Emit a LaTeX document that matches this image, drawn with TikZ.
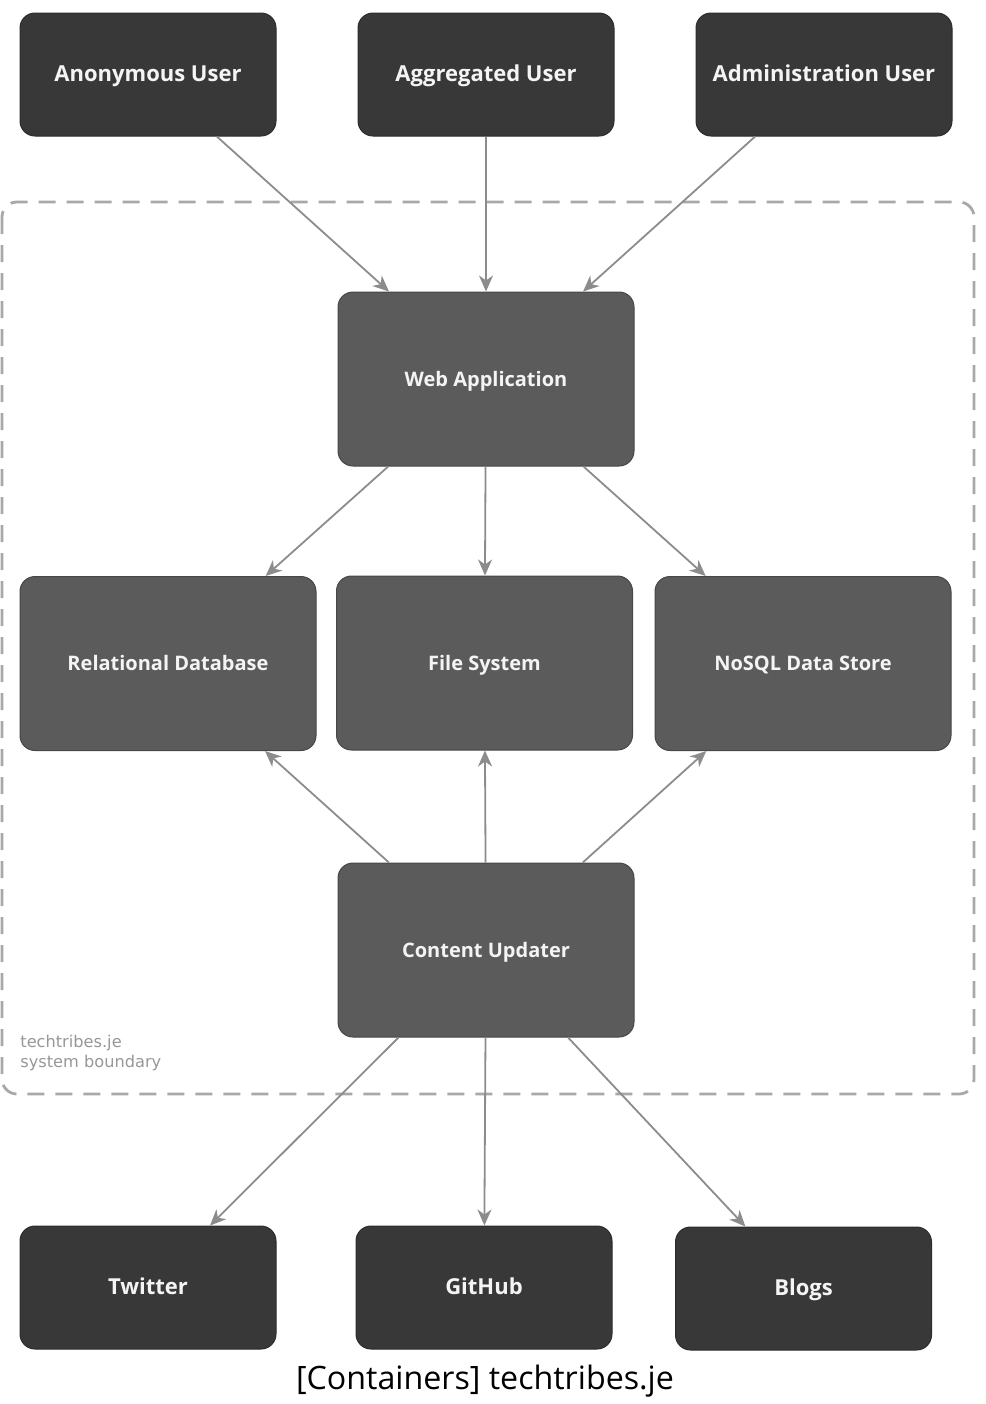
\documentclass[tikz,border=0pt]{standalone}
\usepackage{fontspec}
\setmainfont{Open Sans}
\newfontfamily\boundfont{DejaVu Sans}
\usepackage{tikz}
\usetikzlibrary{arrows.meta,positioning}
\definecolor{ttDark}{HTML}{383838}
\definecolor{ttDarkLine}{HTML}{2C2C2C}
\definecolor{ttMid}{HTML}{5B5B5B}
\definecolor{ttMidLine}{HTML}{474747}
\definecolor{ttText}{HTML}{F4F4F4}
\definecolor{ttArrow}{HTML}{8C8C8C}
\definecolor{ttBound}{HTML}{A8A8A8}
\tikzset{
    >={Stealth[length=8pt,width=7pt,inset=2.5pt]},
    outer/.style={draw=ttDarkLine, line width=0.5pt, rounded corners=7.5pt, fill=ttDark, text=ttText, font=\fontsize{11}{13}\selectfont\bfseries, align=center, inner sep=0pt, text height=0.72em, text depth=0pt, minimum width=128pt, minimum height=61.5pt},
    container/.style={draw=ttMidLine, line width=0.5pt, rounded corners=7.5pt, fill=ttMid, text=ttText, font=\fontsize{10}{12}\selectfont\bfseries, align=center, inner sep=0pt, text height=0.72em, text depth=0pt, minimum width=148pt, minimum height=87pt},
    boundary/.style={draw=ttBound, line width=1.4pt, rounded corners=7.5pt, dash pattern=on 8.5pt off 5.5pt},
    boundlabel/.style={text=ttBound!90!black, font=\boundfont\fontsize{8.1}{10}\selectfont, align=left, inner sep=0pt},
    uses/.style={->, line width=0.9pt, draw=ttArrow}
}
\begin{document}
\begin{tikzpicture}[x=0.5pt, y=-0.5pt]
\useasboundingbox (0,0) rectangle (986,1404);
% system boundary
\draw[boundary] (2,202) rectangle (974,1094);
\node[boundlabel, anchor=north west] (bndlabel) at (20,1035) {techtribes.je\\system boundary};
% people
\node[outer] (anon) at (148,74.5) {Anonymous User};
\node[outer] (aggr) at (486,74.5) {Aggregated User};
\node[outer] (admin) at (824,74.5) {Administration User};
% containers
\node[container] (webapp) at (486,379) {Web Application};
\node[container] (reldb) at (168,663.5) {Relational Database};
\node[container] (files) at (484.5,663) {File System};
\node[container] (nosql) at (803,663.5) {NoSQL Data Store};
\node[container] (updater) at (486,950) {Content Updater};
% external systems
\node[outer] (twitter) at (148,1287.5) {Twitter};
\node[outer] (github) at (484,1287.5) {GitHub};
\node[outer] (blogs) at (803.5,1288.5) {Blogs};
\node[font=\fontsize{16.1}{19}\selectfont, text=black] (title) at (485,1381) {[Containers] techtribes.je};
% relationships
\foreach \src in {anon,aggr,admin}
  \draw[uses] (\src) -- (webapp);
\foreach \dst in {reldb,files,nosql}{
  \draw[uses] (webapp) -- (\dst);
  \draw[uses] (updater) -- (\dst);
}
\foreach \dst in {twitter,github,blogs}
  \draw[uses] (updater) -- (\dst);
\end{tikzpicture}
\end{document}
